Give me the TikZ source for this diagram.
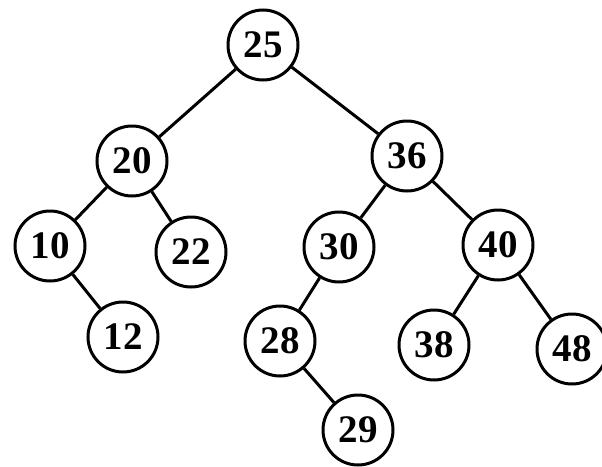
\documentclass[tikz,border=0pt]{standalone}
\usepackage{fontspec}
\setmainfont{Liberation Serif}
\begin{document}
\begin{tikzpicture}[x=1pt,y=-1pt,
  tnode/.style={draw, circle, line width=3pt, minimum size=70pt, inner sep=0pt,
    font=\fontsize{39}{39}\selectfont\bfseries},
  edge/.style={line width=3pt}]
\useasboundingbox (0,0) rectangle (602,466);
\node[tnode] (n25) at (263,45) {25};
\node[tnode] (n20) at (132,161) {20};
\node[tnode] (n36) at (407,156) {36};
\node[tnode] (n10) at (50,246) {10};
\node[tnode] (n22) at (191,252) {22};
\node[tnode] (n30) at (339,247) {30};
\node[tnode] (n40) at (498,245) {40};
\node[tnode] (n12) at (123,337) {12};
\node[tnode] (n28) at (280,341) {28};
\node[tnode] (n38) at (434,345) {38};
\node[tnode] (n48) at (572,349) {48};
\node[tnode] (n29) at (358,430) {29};
\draw[edge] (n25) -- (n20);
\draw[edge] (n25) -- (n36);
\draw[edge] (n20) -- (n10);
\draw[edge] (n20) -- (n22);
\draw[edge] (n10) -- (n12);
\draw[edge] (n36) -- (n30);
\draw[edge] (n36) -- (n40);
\draw[edge] (n30) -- (n28);
\draw[edge] (n28) -- (n29);
\draw[edge] (n40) -- (n38);
\draw[edge] (n40) -- (n48);
\end{tikzpicture}
\end{document}
